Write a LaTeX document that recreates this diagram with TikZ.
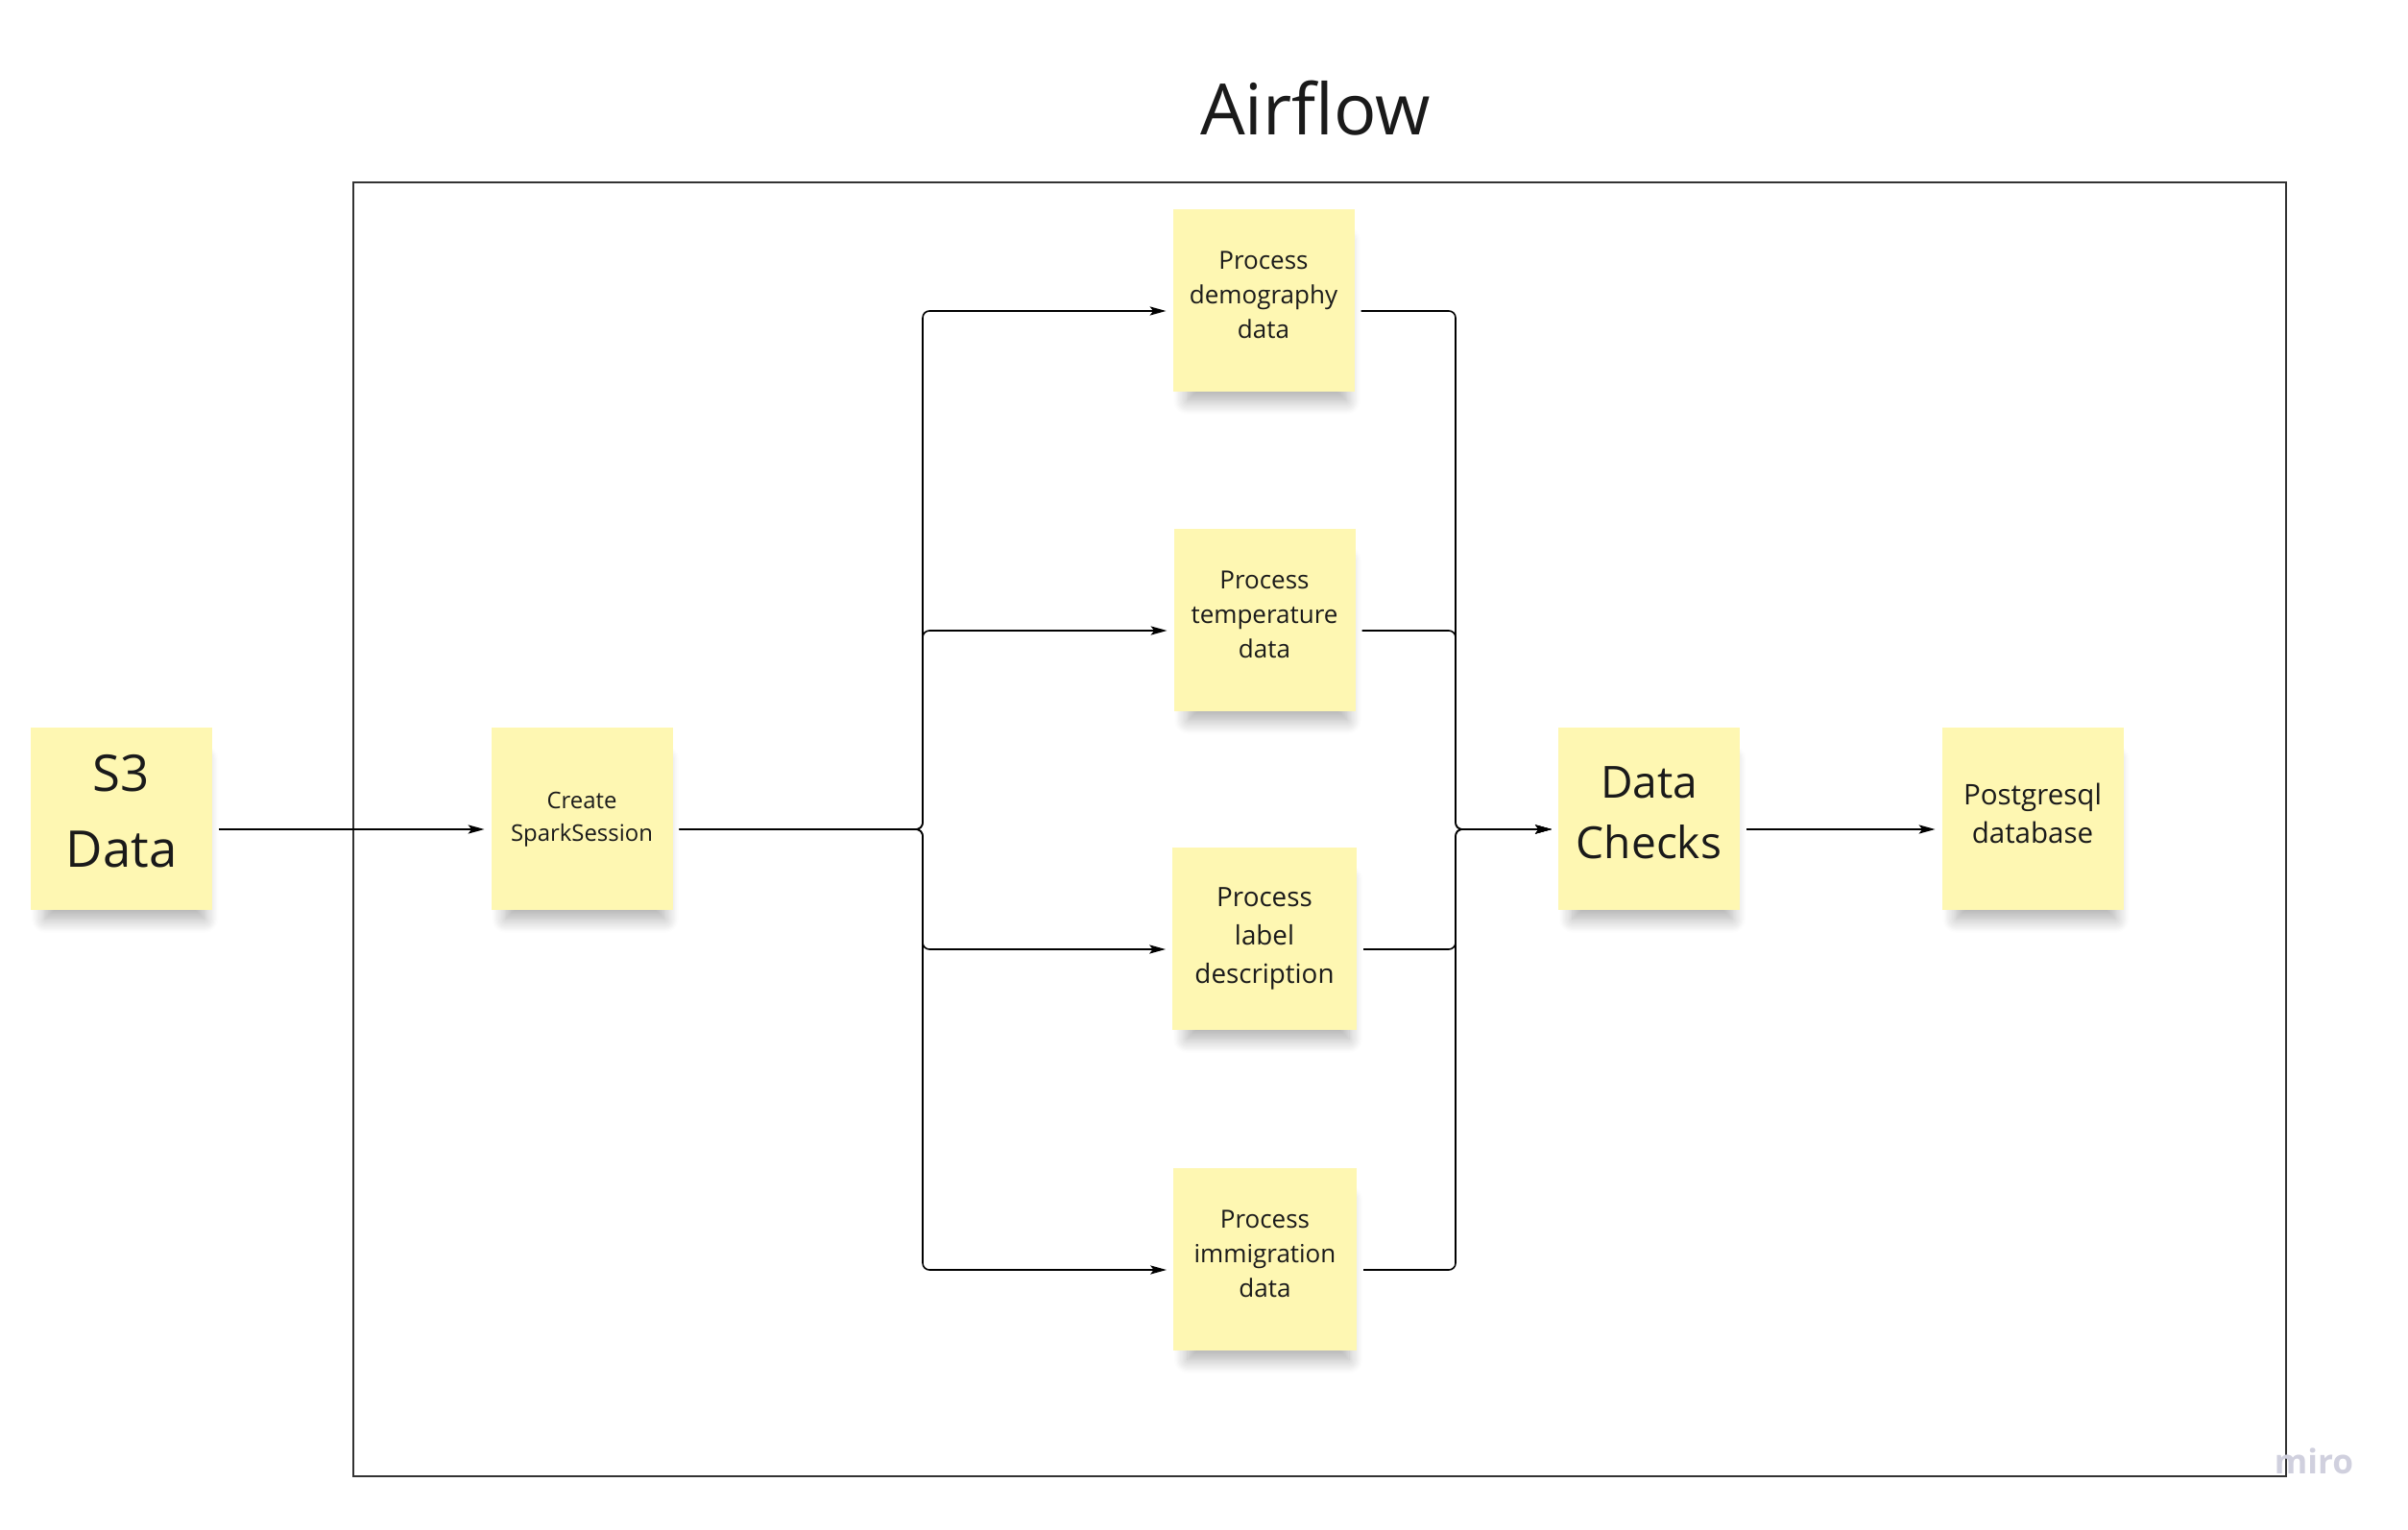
\documentclass[tikz,border=0pt]{standalone}
\usepackage{fontspec}
\setmainfont{Open Sans}
\usetikzlibrary{arrows.meta,shadows.blur}
\definecolor{notefill}{RGB}{254,247,178}
\definecolor{framegray}{RGB}{51,51,51}
\definecolor{inkblack}{RGB}{26,26,26}
\definecolor{mirogray}{RGB}{208,208,222}
\tikzset{
  note/.style={rectangle, fill=notefill, minimum width=1.89cm, minimum height=1.9cm,
    inner sep=0pt, outer sep=0.07cm, align=center, text=inkblack,
    blur shadow={shadow xshift=0.04cm, shadow yshift=-0.24cm, shadow scale=0.88,
      shadow opacity=32, shadow blur radius=0.16cm, shadow blur steps=12}},
  flow/.style={draw=black, line width=0.45pt, rounded corners=0.07cm,
    -{Stealth[length=4.8pt,width=2.6pt,inset=1pt]}},
}
\begin{document}
\begin{tikzpicture}
	\useasboundingbox (0,0) rectangle (25.08,-15.94);
	\node[anchor=base, text=inkblack, font=\fontsize{21}{25}\selectfont] (title) at (13.70,-1.41) {Airflow}; %cim
	\draw[framegray, line width=0.7pt] (3.68,-1.90) rectangle (23.81,-15.38); %keret
	%cetlik
	\node[note, text depth=0.16cm, font=\fontsize{15}{22.5}\selectfont] (s3) at (1.265,-8.53) {S3\\Data};
	\node[note, text depth=0.04cm, font=\fontsize{6.8}{9.5}\selectfont] (spark) at (6.06,-8.53) {Create\\SparkSession};
	\node[note, text depth=0.11cm, font=\fontsize{7.4}{10.2}\selectfont] (demog) at (13.16,-3.13) {Process\\demography\\data};
	\node[note, text depth=0.11cm, font=\fontsize{7.4}{10.2}\selectfont] (temp) at (13.17,-6.46) {Process\\temperature\\data};
	\node[note, minimum width=1.92cm, font=\fontsize{7.9}{11.4}\selectfont] (labeldesc) at (13.17,-9.78) {Process\\label\\description};
	\node[note, minimum width=1.91cm, text depth=0.11cm, font=\fontsize{7.4}{10.2}\selectfont] (immig) at (13.175,-13.12) {Process\\immigration\\data};
	\node[note, text depth=0.13cm, font=\fontsize{13.1}{17.8}\selectfont] (checks) at (17.175,-8.53) {Data\\Checks};
	\node[note, text depth=0.11cm, font=\fontsize{8.4}{11.4}\selectfont] (pgdb) at (21.17,-8.53) {Postgresql\\database};
	%elagazas
	\coordinate (fork) at (9.61,-8.64);
	\coordinate (merge) at (15.16,-8.64);
	\draw[flow] ([yshift=-1.1mm]s3.east) -- ([yshift=-1.1mm]spark.west);
	\foreach \p in {demog,temp,labeldesc,immig}{
		\draw[flow] ([yshift=-1.1mm]spark.east) -- (fork) |- ([yshift=-1.1mm]\p.west);
		\draw[flow] ([yshift=-1.1mm]\p.east) -| (merge) -- ([yshift=-1.1mm]checks.west);
	}
	\draw[flow] ([yshift=-1.1mm]checks.east) -- ([yshift=-1.1mm]pgdb.west);
	\node[anchor=base, text=mirogray, font=\bfseries\fontsize{10}{12}\selectfont] (miro) at (24.10,-15.35) {miro}; %logo
\end{tikzpicture}
\end{document}
